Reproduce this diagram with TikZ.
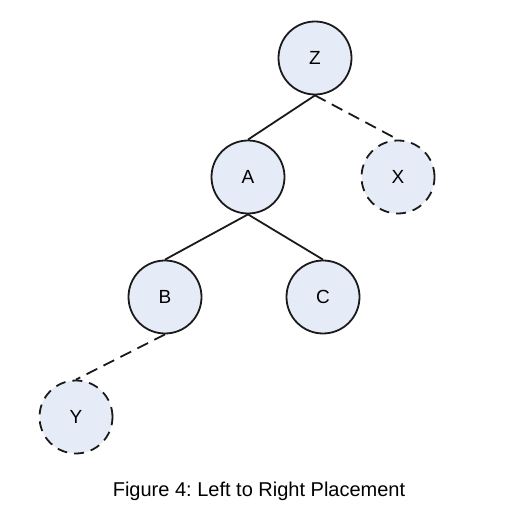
\documentclass[tikz,border=0pt]{standalone}
\usepackage{fontspec}
\setmainfont{Liberation Sans}
\definecolor{nodefill}{HTML}{E6ECF7}
\definecolor{offblack}{HTML}{1a1a1a}
\usetikzlibrary{positioning}

\tikzset{
  treenode/.style={circle, draw=offblack, fill=nodefill, line width=1.8pt,
    minimum size=73pt, inner sep=0pt, font=\fontsize{19}{22}\selectfont},
  ghostnode/.style={treenode, dash pattern=on 10pt off 7pt},
  edge/.style={offblack, line width=1.8pt},
  ghostedge/.style={edge, dash pattern=on 12pt off 7pt}
}

\begin{document}
\frenchspacing
\begin{tikzpicture}[x=1pt, y=1pt]
        \useasboundingbox (0,0) rectangle (513,530);

        % tree
        \node [treenode] (z) at (315,472) {Z};
        \node [treenode] (a) at (248,353) {A};
        \node [ghostnode] (x) at (398,353) {X};
        \node [treenode] (b) at (165,233) {B};
        \node [treenode] (c) at (323,233) {C};
        \node [ghostnode] (y) at (76,113) {Y};

        % caption
        \node (cap) at (259,39) {\fontsize{20}{24}\selectfont Figure 4: Left to Right Placement};

        \draw [edge] (z.south) -- (a.north);
        \draw [ghostedge] (z.south) -- (x.north);
        \draw [edge] (a.south) -- (b.north);
        \draw [edge] (a.south) -- (c.north);
        \draw [ghostedge] (b.south) -- (y.north);
    \end{tikzpicture}
\end{document}
